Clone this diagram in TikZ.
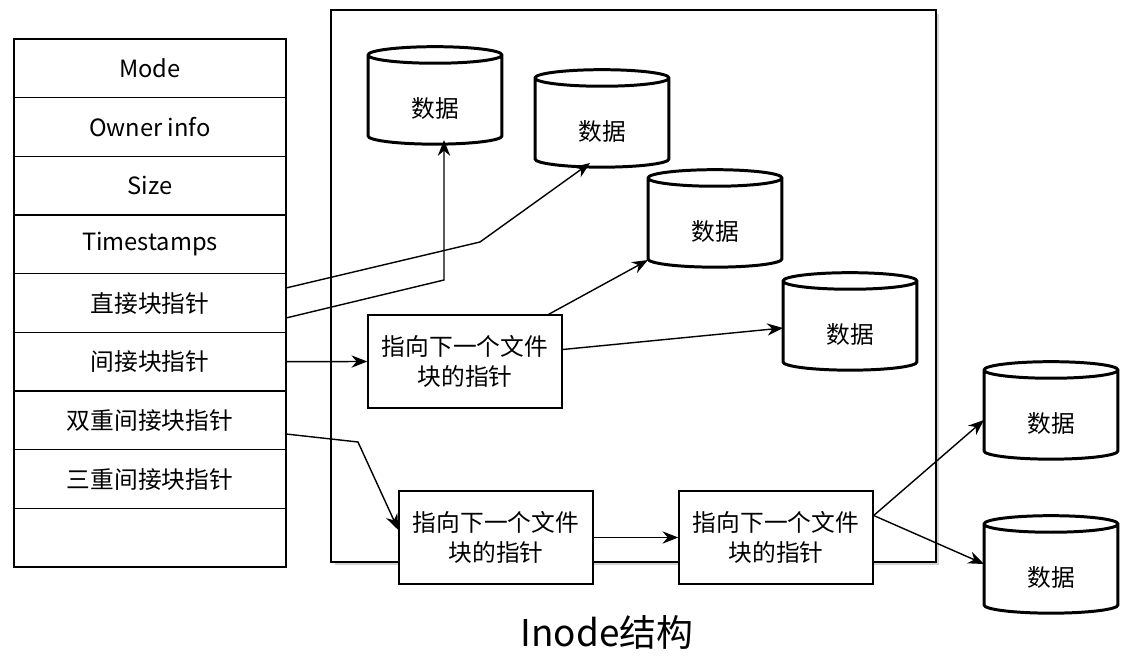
\documentclass[tikz,border=0pt]{standalone}
\usepackage{fontspec}
\setmainfont{Noto Sans CJK SC}
\usetikzlibrary{shapes.geometric,arrows.meta,shadows}
\begin{document}
\begin{tikzpicture}[x=0.02cm,y=-0.02cm,
  cell/.style={draw,line width=0.8pt,minimum width=5.44cm,minimum height=1.17cm,inner sep=0,font=\fontsize{13.5}{15}\selectfont},
  db/.style={cylinder,shape border rotate=90,draw,line width=1.7pt,aspect=0.28,minimum width=2.68cm,minimum height=1.95cm,fill=white,font=\fontsize{13.5}{15}\selectfont,text depth=0pt,yshift=-0.14cm},
  ptr/.style={draw,line width=0.8pt,fill=white,minimum width=3.88cm,minimum height=1.86cm,align=center,inner sep=0,font=\fontsize{13.5}{17}\selectfont},
  arr/.style={-{Stealth[length=9pt,width=7pt]},line width=0.8pt}]
\useasboundingbox (0,0) rectangle (1134,663);
\node[draw,line width=0.8pt,fill=white,minimum width=12.1cm,minimum height=11.04cm,drop shadow={opacity=0.35,shadow xshift=2pt,shadow yshift=-2pt},inner sep=0] (box) at (633.5,286) {};
\foreach \t [count=\i] in {Mode,Owner info,Size,Timestamps,直接块指针,间接块指针,双重间接块指针,三重间接块指针,{}}
  \node[cell] (r\i) at (150,{39+58.67*(\i-0.5)}) {\t};
\node[db] (d1) at (435,95) {\raisebox{-6pt}{数据}};
\node[db] (d2) at (602,118) {\raisebox{-6pt}{数据}};
\node[db] (d3) at (715,218) {\raisebox{-6pt}{数据}};
\node[db] (d4) at (850,321) {\raisebox{-6pt}{数据}};
\node[db] (d5) at (1051,410) {\raisebox{-6pt}{数据}};
\node[db] (d6) at (1051,564) {\raisebox{-6pt}{数据}};
\node[ptr] (p1) at (465,361.5) {指向下一个文件\\块的指针};
\node[ptr] (p2) at (496,537.5) {指向下一个文件\\块的指针};
\node[ptr] (p3) at (776,537.5) {指向下一个文件\\块的指针};
\coordinate (a) at (286,288); \coordinate (a1) at (480,242);
\coordinate (b) at (286,318); \coordinate (b1) at (444,280);
\coordinate (c) at (286,434); \coordinate (c1) at (358,442);
\draw[arr] (a) -- (a1) -- (590,163);
\draw[arr] (b) -- (b1) -- (444,140);
\draw[arr] (r6.east) -- (p1.west);
\draw[arr] (p1.north east) ++(-14,0) -- (648,260);
\draw[arr] (p1.east) ++(0,-12) -- (783,328);
\draw[arr] (c) -- (c1) -- (p2.west |- 0,530);
\draw[arr] (p2.east) -- (p3.west);
\draw[arr] (p3.east) ++(0,-22) -- (984,420);
\draw[arr] (p3.east) ++(0,-22) -- (984,564);
\node[font=\fontsize{21}{24}\selectfont] (title) at (607,632) {Inode结构};
\end{tikzpicture}
\end{document}
